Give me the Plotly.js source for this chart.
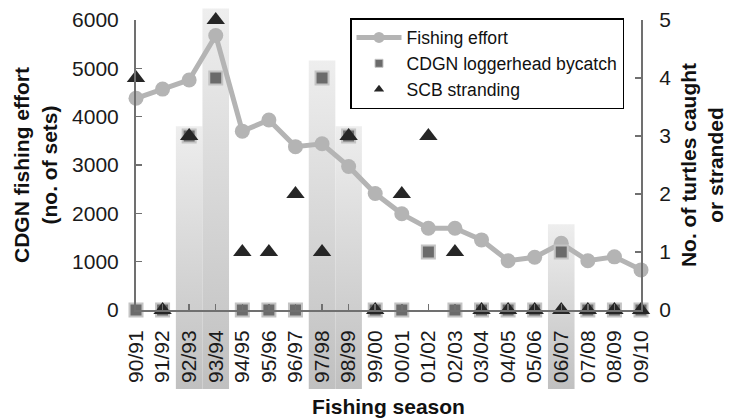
<!DOCTYPE html>
<html>
<head>
<meta charset="utf-8">
<script src="https://cdn.plot.ly/plotly-3.0.1.min.js"></script>
<style>html,body{margin:0;padding:0;background:#fff;}#chart{width:736px;height:418px;}</style>
</head>
<body>
<div id="chart"></div>
<script>
// ---- data ----
const seasons = ['90/91','91/92','92/93','93/94','94/95','95/96','96/97','97/98','98/99','99/00',
                 '00/01','01/02','02/03','03/04','04/05','05/06','06/07','07/08','08/09','09/10'];
const fishingEffort = [4380, 4570, 4760, 5680, 3700, 3930, 3380, 3440, 2970, 2410,
                       1990, 1690, 1690, 1450, 1020, 1090, 1380, 1020, 1100, 830];
const bycatch = [0, 0, 3, 4, 0, 0, 0, 4, 3, 0, 0, 1, 0, 0, 0, 0, 1, 0, 0, 0];
const stranding = [4, 0, 3, 5, 1, 1, 2, 1, 3, 0, 2, 3, 1, 0, 0, 0, 0, 0, 0, 0];
// highlighted seasons (shaded columns), top given in right-axis units
const highlightSeasons = ['92/93', '93/94', '97/98', '98/99', '06/07'];
const highlightTop = [3.17, 5.2, 4.3, 3.17, 1.48];

// ---- layout geometry (pixels) ----
const W = 736, H = 418;
const plotL = 136, plotR = 641, plotT = 20, plotB = 310;
const shadeBottomPx = 389, shadeTopPx = 5;
const rightMax = 5, leftMax = 6000;
const pxPerUnit = (plotB - plotT) / rightMax;
const shadeMin = (plotB - shadeBottomPx) / pxPerUnit;
const shadeMax = (plotB - shadeTopPx) / pxPerUnit;

const xDom = [plotL / W, plotR / W];
const yDom = [(H - plotB) / H, (H - plotT) / H];
const shadeDom = [(H - shadeBottomPx) / H, (H - shadeTopPx) / H];

const font = 'Liberation Sans, Arial, sans-serif';
const axisCol = '#707070';
const lineCol = '#b4b4b4';
const sqCol = '#6b6b6b';
const triCol = '#262626';

const traces = [];
// shaded columns on a background subplot
highlightSeasons.forEach(function (s, k) {
  const i = seasons.indexOf(s);
  traces.push({
    type: 'scatter', mode: 'none', xaxis: 'x', yaxis: 'y',
    x: [i - 0.5, i + 0.5, i + 0.5, i - 0.5, i - 0.5],
    y: [shadeMin, shadeMin, highlightTop[k], highlightTop[k], shadeMin],
    fill: 'toself', fillcolor: '#d8d8d8',
    fillgradient: {type: 'vertical', start: shadeMin, stop: highlightTop[k],
                   colorscale: [[0, '#c0c0c0'], [1, '#eeeeee']]},
    showlegend: false, hoverinfo: 'skip'
  });
});
// fishing effort
traces.push({
  type: 'scatter', mode: 'lines+markers', xaxis: 'x2', yaxis: 'y2',
  x: seasons, y: fishingEffort, name: 'Fishing effort',
  line: {color: lineCol, width: 5},
  marker: {color: lineCol, size: 15, symbol: 'circle'},
  cliponaxis: false, showlegend: false
});
traces.push({
  type: 'scatter', mode: 'markers', xaxis: 'x2', yaxis: 'y3',
  x: seasons, y: bycatch, name: 'CDGN loggerhead bycatch',
  marker: {color: sqCol, size: 13, symbol: 'square', line: {color: '#c4c4c4', width: 2}},
  cliponaxis: false, showlegend: false
});
traces.push({
  type: 'scatter', mode: 'markers', xaxis: 'x2', yaxis: 'y3',
  x: seasons, y: stranding, name: 'SCB stranding',
  marker: {color: triCol, size: 16, symbol: 'triangle-up'},
  cliponaxis: false, showlegend: false
});
// legend entries
traces.push({type: 'scatter', mode: 'lines+markers', xaxis: 'x2', yaxis: 'y3', x: [null], y: [null],
  name: 'Fishing effort', line: {color: lineCol, width: 5}, marker: {color: lineCol, size: 11}});
traces.push({type: 'scatter', mode: 'markers', xaxis: 'x2', yaxis: 'y3', x: [null], y: [null],
  name: 'CDGN loggerhead bycatch', marker: {color: sqCol, size: 8, symbol: 'square', line: {color: '#c4c4c4', width: 1}}});
traces.push({type: 'scatter', mode: 'markers', xaxis: 'x2', yaxis: 'y3', x: [null], y: [null],
  name: 'SCB stranding', marker: {color: triCol, size: 9, symbol: 'triangle-up'}});

const tickFont = {family: font, size: 21, color: '#1a1a1a'};
const titleFont = {family: font, size: 21, color: '#111', weight: 'bold'};

const layout = {
  width: W, height: H,
  margin: {l: 0, r: 0, t: 0, b: 0},
  paper_bgcolor: '#ffffff', plot_bgcolor: 'rgba(0,0,0,0)',
  showlegend: true,
  legend: {
    x: 350 / W, y: (H - 18) / H, xanchor: 'left', yanchor: 'top',
    bgcolor: '#ffffff', bordercolor: '#000000', borderwidth: 1.5,
    font: {family: font, size: 17.6, color: '#111'},
    itemwidth: 45, traceorder: 'normal'
  },
  xaxis: {domain: xDom, range: [0, seasons.length - 1], visible: false, fixedrange: true, anchor: 'y'},
  yaxis: {domain: shadeDom, range: [shadeMin, shadeMax], visible: false, fixedrange: true, anchor: 'x'},
  xaxis2: {
    domain: xDom, anchor: 'y2', type: 'category', range: [0, seasons.length - 1],
    showline: true, linecolor: axisCol, linewidth: 2, showgrid: false, zeroline: false,
    ticks: 'inside', ticklen: 6, tickcolor: axisCol, tickwidth: 1.5,
    tickangle: -90, tickfont: tickFont, dtick: 1, ticklabelstandoff: 10,
    title: {text: 'Fishing season', font: titleFont, standoff: 22}
  },
  yaxis2: {
    domain: yDom, anchor: 'x2', range: [0, leftMax], dtick: 1000,
    showline: true, linecolor: axisCol, linewidth: 2, showgrid: false, zeroline: false,
    ticks: 'inside', ticklen: 6, tickcolor: axisCol, tickwidth: 1.5,
    tickfont: tickFont, ticklabelstandoff: 11,
    title: {text: 'CDGN fishing effort<br>(no. of sets)', font: titleFont, standoff: 9}
  },
  yaxis3: {
    overlaying: 'y2', side: 'right', anchor: 'x2', range: [0, rightMax], dtick: 1,
    showline: true, linecolor: axisCol, linewidth: 2, showgrid: false, zeroline: false,
    ticks: 'inside', ticklen: 6, tickcolor: axisCol, tickwidth: 1.5,
    tickfont: tickFont, ticklabelstandoff: 12,
    title: {text: 'No. of turtles caught<br>or stranded', font: titleFont, standoff: 11}
  }
};

Plotly.newPlot('chart', traces, layout, {staticPlot: true, displayModeBar: false});
</script>
</body>
</html>
